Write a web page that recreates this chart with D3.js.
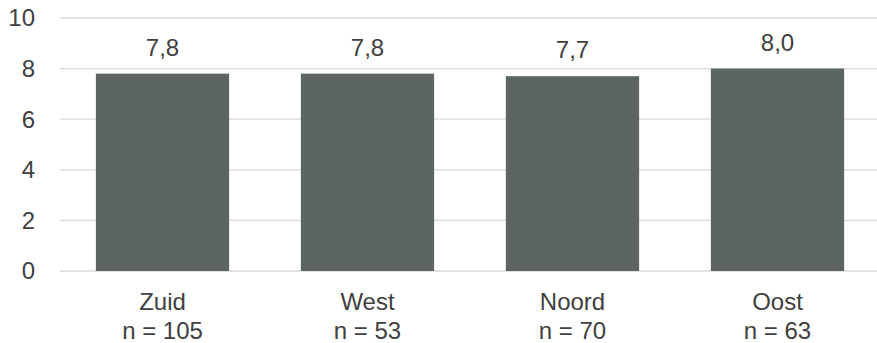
<!DOCTYPE html>
<html>
<head>
<meta charset="utf-8">
<script src="https://cdn.jsdelivr.net/npm/d3@7"></script>
<style>
  body { margin: 0; background: #fff; }
  text { font-family: "Liberation Sans", Arial, sans-serif; fill: #404040; }
</style>
</head>
<body>
<svg id="chart" width="877" height="343"></svg>
<script>
// chart data
const categories = ["Zuid", "West", "Noord", "Oost"];
const counts = ["n = 105", "n = 53", "n = 70", "n = 63"];
const values = [7.8, 7.8, 7.7, 8.0];
const yTicks = [0, 2, 4, 6, 8, 10];

const svg = d3.select("#chart");

const x = d3.scaleBand()
  .domain(categories)
  .range([60, 880])
  .paddingInner(0.35)
  .paddingOuter(0.175);

const y = d3.scaleLinear()
  .domain([0, 10])
  .range([271, 18]);

// gridlines
svg.append("g")
  .selectAll("line")
  .data(yTicks)
  .join("line")
  .attr("x1", 60)
  .attr("x2", 877)
  .attr("y1", d => y(d))
  .attr("y2", d => y(d))
  .attr("stroke", "#d9d9d9")
  .attr("stroke-width", 1.3);

// y tick labels
svg.append("g")
  .selectAll("text")
  .data(yTicks)
  .join("text")
  .attr("x", 35)
  .attr("y", d => y(d))
  .attr("dy", "0.35em")
  .attr("text-anchor", "end")
  .attr("font-size", 24)
  .text(d => d);

// bars
svg.append("g")
  .selectAll("rect")
  .data(values)
  .join("rect")
  .attr("x", (d, i) => x(categories[i]))
  .attr("width", x.bandwidth())
  .attr("y", d => y(d))
  .attr("height", d => y(0) - y(d))
  .attr("fill", "#5d6563");

// value labels
const fmt = v => d3.format(".1f")(v).replace(".", ",");
svg.append("g")
  .selectAll("text")
  .data(values)
  .join("text")
  .attr("x", (d, i) => x(categories[i]) + x.bandwidth() / 2)
  .attr("y", d => y(d) - 18)
  .attr("text-anchor", "middle")
  .attr("font-size", 24)
  .text(d => fmt(d));

// category labels, two lines each
const cat = svg.append("g")
  .selectAll("text")
  .data(categories)
  .join("text")
  .attr("text-anchor", "middle")
  .attr("font-size", 24);
cat.append("tspan")
  .attr("x", d => x(d) + x.bandwidth() / 2)
  .attr("y", 310)
  .text(d => d);
cat.append("tspan")
  .attr("x", d => x(d) + x.bandwidth() / 2)
  .attr("y", 339)
  .text((d, i) => counts[i]);
</script>
</body>
</html>
